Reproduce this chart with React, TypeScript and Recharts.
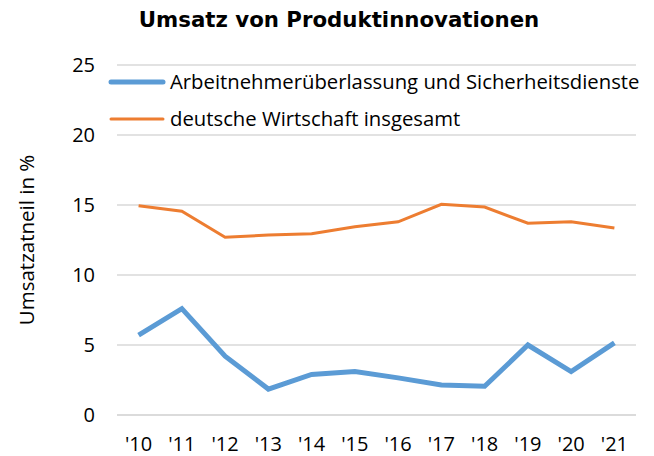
import { LineChart, Line, XAxis, YAxis, CartesianGrid, Legend, Label } from 'recharts';

const years = ["'10", "'11", "'12", "'13", "'14", "'15", "'16", "'17", "'18", "'19", "'20", "'21"];
const arbeitnehmer = [5.7, 7.6, 4.2, 1.85, 2.9, 3.1, 2.65, 2.15, 2.05, 5.0, 3.1, 5.15];
const gesamt = [14.95, 14.55, 12.7, 12.85, 12.95, 13.45, 13.8, 15.05, 14.85, 13.7, 13.8, 13.35];
const yTicks = [0, 5, 10, 15, 20, 25];

const seriesInfo = [
  { key: 'arbeitnehmer', name: 'Arbeitnehmerüberlassung und Sicherheitsdienste', color: '#5B9BD5', width: 5 },
  { key: 'gesamt', name: 'deutsche Wirtschaft insgesamt', color: '#ED7D31', width: 3 },
];

const data = years.map((y, i) => ({ year: y, arbeitnehmer: arbeitnehmer[i], gesamt: gesamt[i] }));

const font = 'Open Sans, Liberation Sans, sans-serif';

const LegendBox = () => (
  <div style={{ fontFamily: font, fontSize: 20.3, color: '#000', lineHeight: '37px' }}>
    {seriesInfo.map((s) => (
      <div key={s.key} style={{ display: 'flex', alignItems: 'center', height: 37, whiteSpace: 'nowrap' }}>
        <svg width={58} height={10} style={{ marginRight: 4 }}>
          <line x1={3} y1={5} x2={55} y2={5} stroke={s.color} strokeWidth={s.width} strokeLinecap="round" />
        </svg>
        <span>{s.name}</span>
      </div>
    ))}
  </div>
);

export default function App() {
  return (
    <div style={{ position: 'absolute', left: 0, top: 0, width: 654, height: 456, background: '#fff' }}>
      <div
        style={{
          position: 'absolute',
          left: 0,
          width: 678,
          top: 7,
          lineHeight: '25px',
          textAlign: 'center',
          fontFamily: 'DejaVu Sans, sans-serif',
          fontWeight: 'bold',
          fontSize: 21.3,
          zIndex: 2,
          whiteSpace: 'nowrap',
        }}
      >
        Umsatz von Produktinnovationen
      </div>
      <LineChart width={654} height={456} data={data} margin={{ top: 65, right: 18, bottom: 11, left: 45 }}>
        <CartesianGrid vertical={false} stroke="#d9d9d9" strokeWidth={1.5} />
        <XAxis
          dataKey="year"
          height={30}
          tickSize={0}
          tickMargin={22}
          padding={{ left: 21.6, right: 21.6 }}
          axisLine={{ stroke: '#d9d9d9', strokeWidth: 1.5 }}
          tick={{ fill: '#000', fontSize: 20, fontFamily: font }}
          interval={0}
        />
        <YAxis
          domain={[0, 25]}
          ticks={yTicks}
          width={72}
          tickSize={0}
          tickMargin={22}
          axisLine={false}
          tick={{ fill: '#000', fontSize: 20, fontFamily: font }}
        >
          <Label
            value="Umsatzatneil in %"
            angle={-90}
            position="insideLeft"
            offset={-18}
            style={{ fill: '#000', fontSize: 20.5, fontFamily: font, textAnchor: 'middle' }}
          />
        </YAxis>
        <Legend
          content={<LegendBox />}
          layout="vertical"
          align="center"
          verticalAlign="middle"
          wrapperStyle={{ left: 108, top: 63, width: 560 }}
        />
        {seriesInfo.map((s) => (
          <Line
            key={s.key}
            dataKey={s.key}
            name={s.name}
            stroke={s.color}
            strokeWidth={s.width}
            dot={false}
            type="linear"
            isAnimationActive={false}
          />
        ))}
      </LineChart>
    </div>
  );
}
